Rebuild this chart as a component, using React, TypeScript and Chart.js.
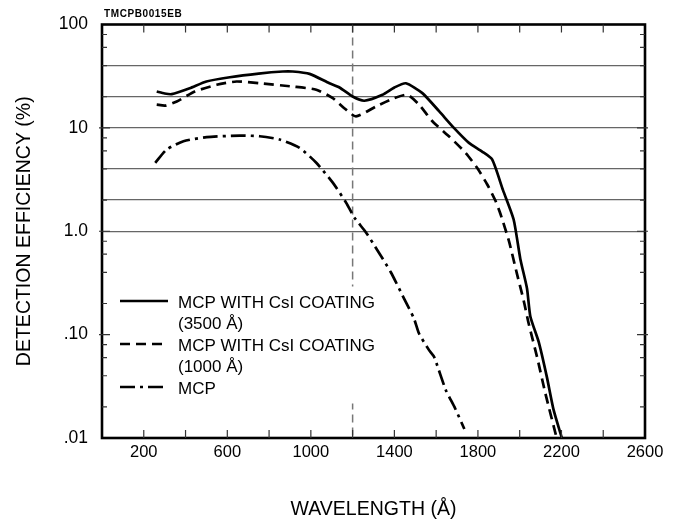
import React, { useEffect, useRef } from 'react';
import { Chart, registerables } from 'chart.js';

Chart.register(...registerables);

// ---- Data ----
const wl3500 = [262, 300, 334, 420, 500, 612, 750, 866, 913, 994, 1089, 1137, 1200, 1256, 1343, 1400, 1455, 1534, 1614, 1685, 1757, 1820, 1868, 1920, 1971, 2003, 2035, 2051, 2091, 2130, 2162, 2202];
const eff3500 = [22.5, 21.5, 21.2, 24.2, 28.1, 30.9, 33.5, 35.1, 35.1, 33.3, 27.0, 24.6, 20.1, 18.3, 20.9, 24.6, 27.0, 21.7, 14.5, 10.0, 7.16, 5.9, 4.95, 2.5, 1.3, 0.54, 0.28, 0.15, 0.085, 0.039, 0.0188, 0.01];

const wl1000 = [262, 302, 358, 445, 549, 644, 755, 914, 1026, 1105, 1160, 1216, 1312, 1400, 1463, 1518, 1582, 1661, 1741, 1796, 1844, 1884, 1908, 1948, 1987, 2019, 2043, 2083, 2123, 2177];
const eff1000 = [16.8, 16.4, 18.0, 22.5, 26.1, 28.1, 27.0, 25.1, 23.4, 19.4, 15.5, 12.9, 16.1, 19.4, 20.9, 16.8, 11.6, 8.3, 5.73, 4.11, 2.85, 1.97, 1.47, 0.81, 0.387, 0.214, 0.128, 0.061, 0.027, 0.01];

const wlMcp = [255, 310, 390, 501, 660, 755, 851, 946, 1026, 1105, 1169, 1208, 1264, 1320, 1383, 1447, 1494, 1518, 1566, 1590, 1646, 1690, 1735];
const effMcp = [4.59, 6.18, 7.43, 8.13, 8.43, 8.3, 7.71, 6.41, 4.6, 2.95, 1.89, 1.36, 0.973, 0.649, 0.401, 0.222, 0.143, 0.1025, 0.0708, 0.061, 0.0292, 0.0195, 0.0122];

const seriesNames = ['MCP WITH CsI COATING\n(3500 Å)', 'MCP WITH CsI COATING\n(1000 Å)', 'MCP'];

const xMin = 0;
const xMax = 2600;
const xStep = 200;
const xLabelValues = [200, 600, 1000, 1400, 1800, 2200, 2600];

const yTickValues = [0.01, 0.02, 0.04, 0.06, 0.08, 0.1, 0.2, 0.4, 0.6, 0.8, 1, 2, 4, 6, 8, 10, 20, 40, 60, 80, 100];
const yMajorValues = [0.01, 0.1, 1, 10, 100];
const yMajorLabels = ['.01', '.10', '1.0', '10', '100'];
const yGridValues = [1, 2, 4, 10, 20, 40];

const markerWavelength = 1200;

const xTitle = 'WAVELENGTH (Å)';
const yTitle = 'DETECTION EFFICIENCY (%)';
const codeLabel = 'TMCPB0015EB';

const FONT = "'Liberation Sans', Arial, Helvetica, sans-serif";

const zip = (xs: number[], ys: number[]) => xs.map((x, i) => ({ x, y: ys[i] }));

const decorPlugin = {
  id: 'decor',
  beforeDatasetsDraw(chart: any) {
    const { ctx, chartArea, scales } = chart;
    const x = scales.x.getPixelForValue(markerWavelength);
    ctx.save();
    ctx.strokeStyle = '#777';
    ctx.lineWidth = 1.5;
    ctx.setLineDash([8, 5]);
    ctx.beginPath();
    ctx.moveTo(x, chartArea.top);
    ctx.lineTo(x, chartArea.bottom);
    ctx.stroke();
    ctx.restore();
  },
  afterDatasetsDraw(chart: any) {
    const { ctx, chartArea, scales } = chart;
    const { left, right, top, bottom } = chartArea;
    ctx.save();

    // Legend box (white background)
    const lx = left + 10;
    const ly = top + 262;
    ctx.fillStyle = '#fff';
    ctx.fillRect(lx, ly, 274, 117);
    ctx.font = `17px ${FONT}`;
    ctx.fillStyle = '#000';
    ctx.textAlign = 'left';
    ctx.textBaseline = 'alphabetic';
    let baseline = ly + 21;
    const rowH = 21.5;
    chart.data.datasets.forEach((ds: any) => {
      const lines = String(ds.label).split('\n');
      ctx.save();
      ctx.strokeStyle = ds.borderColor;
      ctx.lineWidth = ds.borderWidth;
      ctx.setLineDash(ds.borderDash || []);
      ctx.beginPath();
      ctx.moveTo(lx + 8, baseline - 6.5);
      ctx.lineTo(lx + 56, baseline - 6.5);
      ctx.stroke();
      ctx.restore();
      lines.forEach((t: string) => {
        ctx.fillText(t, lx + 66, baseline);
        baseline += rowH;
      });
    });

    // Frame
    ctx.strokeStyle = '#000';
    ctx.lineWidth = 2.6;
    ctx.setLineDash([]);
    ctx.strokeRect(left, top, right - left, bottom - top);

    // Inward ticks
    ctx.lineWidth = 1.2;
    ctx.strokeStyle = '#333';
    for (let v = xMin + xStep; v < xMax; v += xStep) {
      const px = scales.x.getPixelForValue(v);
      ctx.beginPath();
      ctx.moveTo(px, top);
      ctx.lineTo(px, top + 8);
      ctx.moveTo(px, bottom);
      ctx.lineTo(px, bottom - 8);
      ctx.stroke();
    }
    yTickValues.forEach((v) => {
      if (v <= yTickValues[0] || v >= yTickValues[yTickValues.length - 1]) return;
      const py = scales.y.getPixelForValue(v);
      const major = yMajorValues.includes(v);
      const len = major ? 8 : 5;
      ctx.beginPath();
      ctx.moveTo(left - (major ? 3 : 0), py);
      ctx.lineTo(left + len, py);
      ctx.moveTo(right + (major ? 3 : 0), py);
      ctx.lineTo(right - len, py);
      ctx.stroke();
    });

    // Titles
    ctx.fillStyle = '#000';
    ctx.font = `19.5px ${FONT}`;
    ctx.textAlign = 'center';
    ctx.textBaseline = 'alphabetic';
    ctx.fillText(xTitle, (left + right) / 2, 515);
    ctx.save();
    ctx.translate(30, (top + bottom) / 2);
    ctx.rotate(-Math.PI / 2);
    ctx.fillText(yTitle, 0, 0);
    ctx.restore();

    ctx.font = `bold 10px ${FONT}`;
    (ctx as any).letterSpacing = '0.6px';
    ctx.textAlign = 'left';
    ctx.fillText(codeLabel, left + 2, top - 8);
    ctx.restore();
  },
};

export default function App() {
  const ref = useRef<HTMLCanvasElement | null>(null);
  useEffect(() => {
    if (!ref.current) return;
    const common = { borderColor: '#000', borderWidth: 2.7, pointRadius: 0, tension: 0.2, fill: false, borderCapStyle: 'butt' };
    const chart = new Chart(ref.current, {
      type: 'line',
      data: {
        datasets: [
          { ...common, label: seriesNames[0], data: zip(wl3500, eff3500), borderDash: [] },
          { ...common, label: seriesNames[1], data: zip(wl1000, eff1000), borderDash: [10, 6] },
          { ...common, label: seriesNames[2], data: zip(wlMcp, effMcp), borderDash: [15, 5, 3, 5] },
        ] as any,
      },
      options: {
        animation: false,
        responsive: false,
        devicePixelRatio: 1,
        layout: { padding: { left: 0, top: 23, right: 33, bottom: 0 } },
        plugins: { legend: { display: false }, tooltip: { enabled: false } },
        scales: {
          x: {
            type: 'linear',
            min: xMin,
            max: xMax,
            grid: { display: false, drawTicks: false },
            border: { display: false },
            afterFit: (s: any) => { s.height = 83; },
            afterBuildTicks: (s: any) => {
              const t = [];
              for (let v = xMin; v <= xMax; v += xStep) t.push({ value: v });
              s.ticks = t;
            },
            ticks: {
              autoSkip: false,
              maxRotation: 0,
              padding: 5,
              color: '#000',
              font: { family: FONT, size: 16.5 },
              callback: (v: any) => (xLabelValues.includes(Number(v)) ? String(v) : ''),
            },
          },
          y: {
            type: 'logarithmic',
            min: 0.01,
            max: 100,
            border: { display: false },
            grid: {
              drawTicks: false,
              lineWidth: 1.3,
              color: (c: any) => (c.tick && yGridValues.includes(c.tick.value) ? '#666' : 'rgba(0,0,0,0)'),
            },
            afterFit: (s: any) => { s.width = 102; },
            afterBuildTicks: (s: any) => {
              s.ticks = yTickValues.map((v) => ({ value: v }));
            },
            ticks: {
              autoSkip: false,
              padding: 14,
              color: '#000',
              font: { family: FONT, size: 17.5 },
              callback: (v: any) => {
                const i = yMajorValues.indexOf(Number(v));
                return i >= 0 ? yMajorLabels[i] : '';
              },
            },
          },
        },
      },
      plugins: [decorPlugin],
    } as any);
    return () => chart.destroy();
  }, []);
  return (
    <div style={{ position: 'fixed', left: 0, top: 0, width: 678, height: 521, background: '#fff' }}>
      <canvas ref={ref} width={678} height={521} />
    </div>
  );
}
